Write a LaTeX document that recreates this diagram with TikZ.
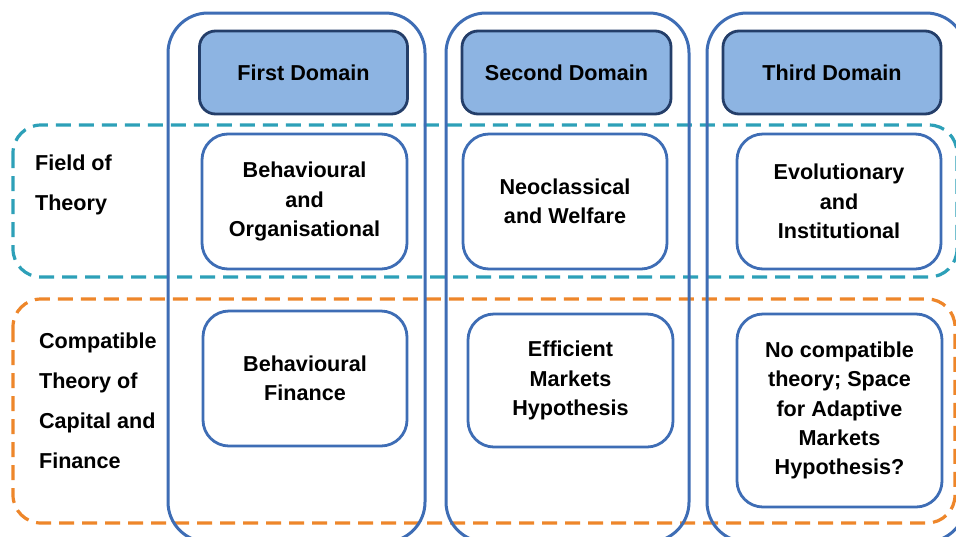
\documentclass[tikz,border=0pt]{standalone}
\usepackage{fontspec}
\setmainfont{Liberation Sans}
\usepackage{tikz}
\definecolor{colblue}{RGB}{62,109,181}
\definecolor{headfill}{RGB}{141,180,226}
\definecolor{headline}{RGB}{36,62,105}
\definecolor{bandcyan}{RGB}{45,160,184}
\definecolor{bandorange}{RGB}{238,134,42}

\begin{document}
\begin{tikzpicture}[x=0.5pt,y=-0.5pt,
  txt/.style={font=\bfseries\fontsize{10.8}{14.7}\selectfont,align=center},
  headbox/.style={txt,draw=headline,fill=headfill,line width=1.4pt,rounded corners=8pt,minimum width=104pt,minimum height=41.5pt},
  theorybox/.style={txt,draw=colblue,fill=white,line width=1.4pt,rounded corners=13pt,minimum width=102.5pt,minimum height=67.5pt},
  sidelabel/.style={font=\bfseries\fontsize{10.8}{20}\selectfont,align=left,anchor=west},
  column/.style={draw=colblue,line width=1.5pt,rounded corners=20pt},
  band/.style={line width=1.6pt,dash pattern=on 7.5pt off 4pt,rounded corners=14pt}]
						\useasboundingbox (0,0) rectangle (956,536);
						\clip (0,0) rectangle (956,536);
						\fill[white] (0,0) rectangle (956,536);
						% 虚线区域
						\draw[band,draw=bandcyan] (13,125) rectangle (957,277);
						\draw[band,draw=bandorange] (13,299) rectangle (955,523);
						% 三列外框
						\draw[column] (168,13) rectangle (425,542);
						\draw[column] (446,13) rectangle (689,542);
						\draw[column] (707,13) rectangle (966,542);
						% 标题框
						\node[headbox] (first) at (303.5,72.5) {First Domain};
						\node[headbox,minimum width=104.5pt] (second) at (566.5,72.5) {Second Domain};
						\node[headbox,minimum width=109pt] (third) at (832,72.5) {Third Domain};
						% 理论领域
						\node[theorybox] (behav) at (304.5,201.5) {Behavioural\\and\\Organisational};
						\node[theorybox,minimum width=102pt] (neo) at (565,201.5) {Neoclassical\\and Welfare};
						\node[theorybox,minimum width=102pt] (evol) at (839,201.5) {Evolutionary\\and\\Institutional};
						% 资本与金融理论
						\node[theorybox,minimum width=102pt] (bfin) at (305,378.5) {Behavioural\\Finance};
						\node[theorybox,minimum height=66.5pt] (emh) at (570.5,380.5) {Efficient\\Markets\\Hypothesis};
						\node[theorybox,minimum height=96.5pt] (amh) at (839.5,410.5) {No compatible\\theory; Space\\for Adaptive\\Markets\\Hypothesis?};
						% 左侧标签
						\node[sidelabel] (field) at (28,185) {Field of\\Theory};
						\node[sidelabel] (compat) at (32,401) {Compatible\\Theory of\\Capital and\\Finance};
					\end{tikzpicture}
\end{document}
